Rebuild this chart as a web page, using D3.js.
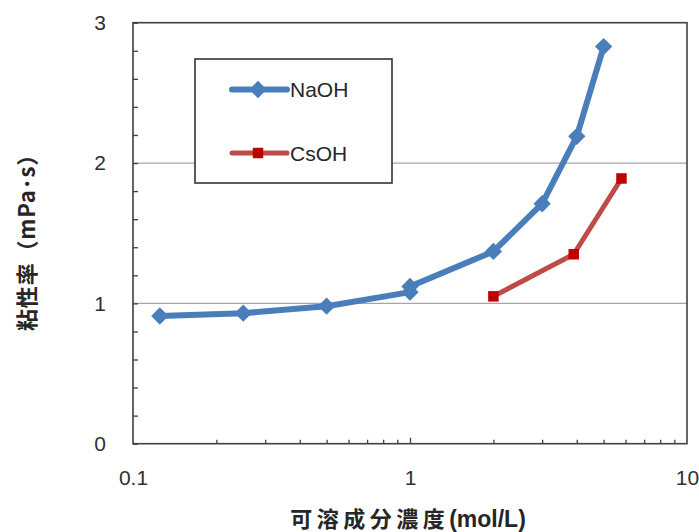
<!DOCTYPE html>
<html>
<head>
<meta charset="utf-8">
<script src="https://cdn.jsdelivr.net/npm/d3@7"></script>
<style>
    body { margin: 0; background: #fff; }
    svg { display: block; }
    .tick text { font-family: "Liberation Sans", Arial, sans-serif; font-size: 21px; fill: #303030; }
    .title { font-family: "Noto Sans CJK JP", sans-serif; font-weight: bold; fill: #262626; }
</style>
</head>
<body>
<div id="container"></div>
<script>
const [svgW, svgH] = [699, 532];
const PLOT = {left: 133, right: 687, top: 22.7, bottom: 443.7};

// data
const seriesNames = ['NaOH', 'CsOH'];
const naohX = [0.125, 0.25, 0.5, 1, 1, 2, 3, 4, 5];
const naohY = [0.91, 0.93, 0.98, 1.08, 1.12, 1.37, 1.71, 2.19, 2.83];
const csohX = [2, 3.9, 5.8];
const csohY = [1.05, 1.35, 1.89];
const xTicks = [0.1, 1, 10];
const yTicks = [0, 1, 2, 3];
const gridValues = [1, 2];

const x = d3.scaleLog().domain([0.1, 10]).range([PLOT.left, PLOT.right]);
const y = d3.scaleLinear().domain([0, 3]).range([PLOT.bottom, PLOT.top]);

function zip(xs, ys) {
    return xs.map(function (v, i) { return {x: v, y: ys[i]}; });
}

function initSVG() {
    return d3.select('#container').append('svg').attr('width', svgW).attr('height', svgH);
}

function renderGrid(svg) {
    svg.append('g').selectAll('line').data(gridValues).enter().append('line')
        .attr('x1', PLOT.left).attr('x2', PLOT.right)
        .attr('y1', function (d) { return y(d); }).attr('y2', function (d) { return y(d); })
        .attr('stroke', '#a6a6a6').attr('stroke-width', 1.2);
}

function renderAxes(svg) {
    // y minor ticks (inward)
    let yMinor = d3.range(0, 3.001, 0.2);
    svg.append('g').attr('transform', 'translate(' + PLOT.left + ',0)')
        .call(d3.axisRight(y).tickValues(yMinor).tickSize(5).tickFormat(''))
        .call(function (g) { g.select('.domain').remove(); })
        .selectAll('line').attr('stroke', '#404040').attr('stroke-width', 1.3);

    svg.append('g').attr('transform', 'translate(' + PLOT.left + ',0)')
        .call(d3.axisLeft(y).tickValues(yTicks).tickSize(0).tickPadding(27).tickFormat(d3.format('d')))
        .call(function (g) { g.select('.domain').remove(); });

    // x minor ticks (inward)
    let xMinor = [];
    [0.1, 1].forEach(function (dec) {
        for (let k = 2; k <= 9; k++) xMinor.push(dec * k);
    });
    svg.append('g').attr('transform', 'translate(0,' + PLOT.bottom + ')')
        .call(d3.axisTop(x).tickValues(xMinor).tickSize(4).tickFormat(''))
        .call(function (g) { g.select('.domain').remove(); })
        .selectAll('line').attr('stroke', '#404040').attr('stroke-width', 1.3);

    svg.append('g').attr('transform', 'translate(0,' + PLOT.bottom + ')')
        .call(d3.axisTop(x).tickValues([1]).tickSize(6).tickFormat(''))
        .call(function (g) { g.select('.domain').remove(); })
        .selectAll('line').attr('stroke', '#404040').attr('stroke-width', 1.3);

    svg.append('g').attr('transform', 'translate(0,' + PLOT.bottom + ')')
        .call(d3.axisBottom(x).tickValues(xTicks).tickSize(0).tickPadding(26)
            .tickFormat(function (d) { return d < 1 ? '0.1' : d3.format('d')(d); }))
        .call(function (g) { g.select('.domain').remove(); });

    // plot border
    svg.append('rect')
        .attr('x', PLOT.left).attr('y', PLOT.top)
        .attr('width', PLOT.right - PLOT.left).attr('height', PLOT.bottom - PLOT.top)
        .attr('fill', 'none').attr('stroke', '#404040').attr('stroke-width', 1.6);
}

function renderSeries(svg, data, opts) {
    let line = d3.line().x(function (d) { return x(d.x); }).y(function (d) { return y(d.y); });

    svg.append('path').datum(data)
        .attr('d', line).attr('fill', 'none')
        .attr('stroke', opts.color).attr('stroke-width', opts.width)
        .attr('stroke-linejoin', 'round');

    let symbol = d3.symbol().type(d3.symbolSquare).size(opts.size);
    svg.append('g').selectAll('path').data(data).enter().append('path')
        .attr('d', symbol)
        .attr('fill', opts.marker)
        .attr('transform', function (d) {
            return 'translate(' + x(d.x) + ',' + y(d.y) + ') rotate(' + opts.rotate + ')';
        });
}

function renderLegend(svg, styles) {
    let g = svg.append('g');
    g.append('rect').attr('x', 195).attr('y', 59).attr('width', 197).attr('height', 124)
        .attr('fill', '#fff').attr('stroke', '#333').attr('stroke-width', 1.6);

    let rows = g.selectAll('g.item').data(seriesNames).enter().append('g')
        .attr('class', 'item')
        .attr('transform', function (d, i) { return 'translate(0,' + (89.5 + i * 63.5) + ')'; });

    rows.append('line').attr('x1', 232).attr('x2', 287).attr('y1', 0).attr('y2', 0)
        .attr('stroke', function (d, i) { return styles[i].color; })
        .attr('stroke-width', function (d, i) { return styles[i].width; })
        .attr('stroke-linecap', 'round');

    rows.append('path')
        .attr('d', function (d, i) { return d3.symbol().type(d3.symbolSquare).size(styles[i].size)(); })
        .attr('fill', function (d, i) { return styles[i].marker; })
        .attr('transform', function (d, i) { return 'translate(258,0) rotate(' + styles[i].rotate + ')'; });

    rows.append('text').attr('x', 290).attr('y', 0).attr('dy', '0.36em')
        .attr('font-family', '"Liberation Sans", Arial, sans-serif')
        .attr('font-size', 21).attr('fill', '#262626')
        .text(function (d) { return d; });
}

function renderTitles(svg) {
    let xt = svg.append('text').attr('class', 'title')
        .attr('x', 408).attr('y', 527)
        .attr('text-anchor', 'middle')
        .attr('font-size', 22);
    xt.append('tspan').attr('letter-spacing', 4.5).text('可溶成分濃度');
    xt.append('tspan').attr('font-family', '"Liberation Sans", Arial, sans-serif').attr('font-size', 23).text('(mol/L)');

    svg.append('text').attr('class', 'title')
        .attr('transform', 'translate(35,237) rotate(-90)')
        .attr('text-anchor', 'middle')
        .attr('font-size', 22)
        .attr('letter-spacing', 0.8)
        .text('粘性率（mPa･s）');
}

function main() {
    let svg = initSVG();
    let styles = [
        {color: '#4a7ebb', marker: '#4a7ebb', width: 6, size: 150, rotate: 45},
        {color: '#be4b48', marker: '#c00000', width: 5, size: 110, rotate: 0}
    ];
    renderGrid(svg);
    renderAxes(svg);
    renderSeries(svg, zip(naohX, naohY), styles[0]);
    renderSeries(svg, zip(csohX, csohY), styles[1]);
    renderLegend(svg, styles);
    renderTitles(svg);
}

main();
</script>
</body>
</html>
